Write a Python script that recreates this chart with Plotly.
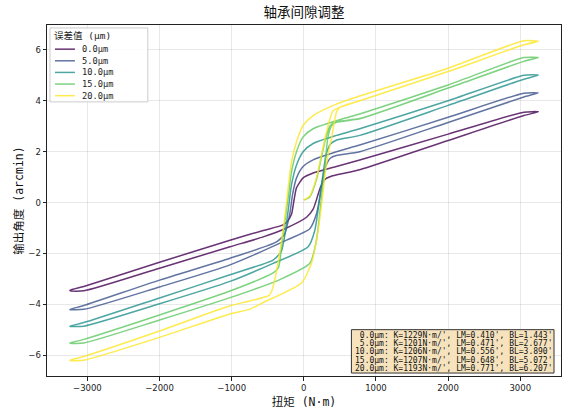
import plotly.graph_objects as go

# ---------------- data ----------------
series_names = ["0.0μm", "5.0μm", "10.0μm", "15.0μm", "20.0μm"]
colors = ["#440154", "#3b528b", "#21918c", "#5ec962", "#fde725"]

# 0.0 um
t_0 = [3250, 3050, 2000, 775, 452, 129, -10, -101, -138, -170, -230, -286, -563, -1023, -2000, -3050, -3240,
       -3240, -3050, -2000, -1023, -563, -263, 37, 129, 184, 230, 290, 400, 775, 2000, 3050, 3250]
a_0 = [3.57, 3.55, 2.69, 1.67, 1.42, 1.16, 0.97, 0.58, 0.06, -0.45, -0.75, -0.88, -1.10, -1.48, -2.35, -3.30, -3.45,
       -3.47, -3.47, -2.58, -1.74, -1.35, -1.03, -0.58, -0.26, 0.19, 0.60, 0.90, 1.05, 1.29, 2.44, 3.42, 3.57]
# 5.0 um
t_5 = [3250, 3050, 2000, 775, 452, 129, -10, -101, -156, -194, -240, -263, -378, -1023, -2000, -3050, -3240,
       -3240, -3050, -2000, -1023, -240, 83, 175, 221, 260, 300, 370, 450, 775, 2000, 3050, 3250]
a_5 = [4.31, 4.30, 3.35, 2.26, 2.00, 1.68, 1.42, 0.97, 0.32, -0.45, -1.00, -1.23, -1.55, -2.19, -3.05, -4.05, -4.20,
       -4.21, -4.20, -3.32, -2.45, -1.48, -1.03, -0.45, 0.19, 0.90, 1.40, 1.75, 1.85, 2.00, 3.15, 4.15, 4.31]
# 10.0 um
t_10 = [3250, 3050, 2000, 775, 452, 129, -10, -101, -170, -217, -270, -309, -332, -425, -1023, -2000, -3050, -3240,
        -3240, -3050, -2000, -1023, -425, 60, 152, 221, 270, 310, 370, 450, 775, 2000, 3050, 3250]
a_10 = [5.01, 5.00, 4.00, 2.90, 2.64, 2.32, 2.00, 1.48, 0.71, -0.32, -1.40, -1.90, -2.00, -2.26, -2.84, -3.75, -4.72, -4.86,
        -4.87, -4.86, -3.98, -3.10, -2.39, -1.74, -1.10, 0.19, 1.20, 1.90, 2.30, 2.45, 2.64, 3.82, 4.85, 5.01]
# 15.0 um  (initial loading, then full loop)
t_15 = [0, 83, 175, 245, 300, 360, 420, 775, 2000, 3050, 3250,
        3050, 2000, 775, 452, 129, -10, -101, -170, -217, -300, -332, -355, -425, -1023, -2000, -3050, -3240,
        -3240, -3050, -2000, -1023, -332, 83, 175, 245, 290, 330, 380, 450, 775, 2000, 3050, 3250]
a_15 = [0.10, 0.22, 0.90, 1.80, 2.50, 3.00, 3.15, 3.30, 4.50, 5.55, 5.70,
        5.70, 4.62, 3.48, 3.22, 2.90, 2.58, 2.00, 1.23, 0.19, -1.50, -2.30, -2.58, -2.77, -3.48, -4.42, -5.38, -5.52,
        -5.53, -5.52, -4.62, -3.74, -3.03, -2.39, -1.48, 0.19, 1.30, 2.50, 3.00, 3.15, 3.29, 4.50, 5.55, 5.70]
# 20.0 um  (initial loading, then full loop)
t_20 = [0, 83, 175, 245, 314, 405, 498, 775, 2000, 3050, 3250,
        3050, 2000, 775, 452, 129, -10, -101, -170, -217, -263, -330, -400, -447, -480, -747, -1023, -2000, -3050, -3240,
        -3240, -3050, -2000, -1023, -747, -563, -32, 106, 198, 250, 290, 337, 383, 452, 498, 775, 2000, 3050, 3250]
a_20 = [0.10, 0.26, 0.97, 1.87, 2.77, 3.61, 3.74, 4.00, 5.15, 6.20, 6.34,
        6.36, 5.28, 4.19, 3.87, 3.42, 3.03, 2.39, 1.61, 0.58, -0.58, -1.90, -3.00, -3.50, -3.65, -3.87, -4.06, -5.05, -6.05, -6.20,
        -6.21, -6.20, -5.30, -4.38, -4.19, -3.93, -3.16, -2.39, -1.10, 0.00, 1.00, 1.90, 2.51, 3.55, 3.74, 4.00, 5.15, 6.20, 6.34]

torques = [t_0, t_5, t_10, t_15, t_20]
angles = [a_0, a_5, a_10, a_15, a_20]

stat_K = [1229, 1201, 1206, 1207, 1193]
stat_LM = [0.410, 0.471, 0.556, 0.648, 0.771]
stat_BL = [1.443, 2.677, 3.890, 5.072, 6.207]
stat_labels = [" 0.0μm", " 5.0μm", "10.0μm", "15.0μm", "20.0μm"]

x_ticks = [-3000, -2000, -1000, 0, 1000, 2000, 3000]
y_ticks = [-6, -4, -2, 0, 2, 4, 6]

# ---------------- layout constants ----------------
W, H = 569, 414
ML, MR, MT, MB = 47, 7, 25, 33
PW, PH = W - ML - MR, H - MT - MB


def px(xp):
    return (xp - ML) / PW


def py(yp):
    return 1 - (yp - MT) / PH


CJK = "Noto Sans CJK SC, sans-serif"
MIXED = "DejaVu Sans Mono, Noto Sans CJK SC, monospace"
TICKF = "DejaVu Sans, sans-serif"
MONO = "DejaVu Sans Mono, monospace"

fig = go.Figure()
for name, col, t, a in zip(series_names, colors, torques, angles):
    fig.add_trace(go.Scatter(
        x=t, y=a, mode="lines", name=name, showlegend=False,
        line=dict(color=col, width=1.5, shape="spline", smoothing=0.6),
        opacity=0.8,
    ))

shapes = []
annotations = []

# ---- legend (drawn compactly, like the reference) ----
shapes.append(dict(type="rect", xref="paper", yref="paper",
                   x0=px(50), x1=px(148), y0=py(103), y1=py(28),
                   fillcolor="rgba(255,255,255,0.85)", line=dict(color="#cccccc", width=1)))
annotations.append(dict(xref="paper", yref="paper", x=px(53), y=py(35.5), xanchor="left", yanchor="middle",
                        text="误差值 (μm)", showarrow=False, borderpad=0,
                        font=dict(family=MIXED, size=9.5, color="#222")))
for i, (name, col) in enumerate(zip(series_names, colors)):
    yy = 49.5 + 11.8 * i
    shapes.append(dict(type="line", xref="paper", yref="paper",
                       x0=px(55), x1=px(75), y0=py(yy), y1=py(yy),
                       line=dict(color=col, width=1.5), opacity=0.8))
    annotations.append(dict(xref="paper", yref="paper", x=px(81), y=py(yy), xanchor="left", yanchor="middle",
                            text=name, showarrow=False, borderpad=0,
                            font=dict(family=MIXED, size=8.7, color="#222")))

# ---- statistics box ----
shapes.append(dict(type="rect", xref="paper", yref="paper",
                   x0=px(352), x1=px(555), y0=py(378), y1=py(334),
                   fillcolor="rgba(245,222,179,0.85)", line=dict(color="#333333", width=1)))
for i, (lab, k, lm, bl) in enumerate(zip(stat_labels, stat_K, stat_LM, stat_BL)):
    line_txt = f"{lab}: K={k}N·m/', LM={lm:.3f}', BL={bl:.3f}'".replace(" ", "\u00a0")
    annotations.append(dict(xref="paper", yref="paper", x=px(355), y=py(339.5 + 8.5 * i),
                            xanchor="left", yanchor="middle", text=line_txt, showarrow=False, borderpad=0,
                            font=dict(family=MONO, size=8, color="#111")))

axis_common = dict(
    showgrid=True, gridcolor="rgba(0,0,0,0.09)", gridwidth=1,
    zeroline=False, showline=True, linecolor="#222", linewidth=1, mirror=True,
    ticks="outside", ticklen=3.5, tickcolor="#222", tickwidth=1,
    tickfont=dict(family=TICKF, size=8.5, color="#222"),
)
fig.update_xaxes(range=[-3560, 3565], tickvals=x_ticks,
                 title=dict(text="扭矩 (N·m)", font=dict(family=MIXED, size=11.5, color="#111"), standoff=6),
                 **axis_common)
fig.update_yaxes(range=[-6.82, 6.98], tickvals=y_ticks,
                 title=dict(text="输出角度 (arcmin)", font=dict(family=MIXED, size=11.5, color="#111"), standoff=2),
                 **axis_common)

fig.update_layout(
    width=W, height=H,
    margin=dict(l=ML, r=MR, t=MT, b=MB),
    paper_bgcolor="white", plot_bgcolor="white",
    title=dict(text="轴承间隙调整", xref="paper", x=0.5, xanchor="center", y=1 - 12.5 / H, yanchor="middle",
               font=dict(family=CJK, size=13.5, color="#111")),
    shapes=shapes,
    annotations=annotations,
    showlegend=False,
)

fig.write_html("out.html", config={"displayModeBar": False},
               post_script="document.body.style.margin='0';document.body.style.overflow='hidden';")
